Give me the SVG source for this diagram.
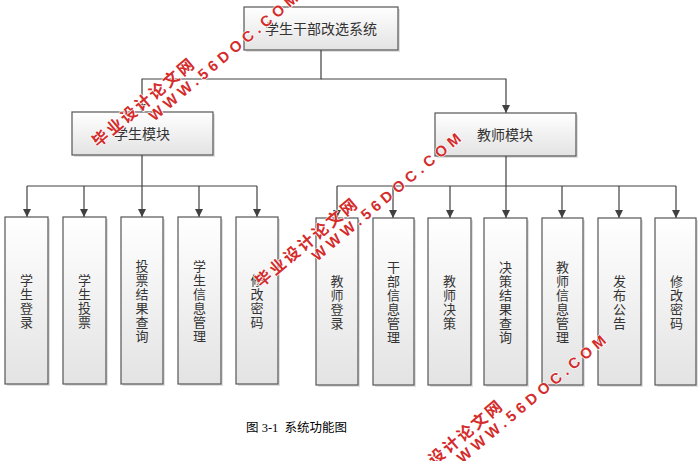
<svg xmlns="http://www.w3.org/2000/svg" width="700" height="461" viewBox="0 0 700 461">
<style>
.box{fill:url(#g);stroke:#555;stroke-width:1.2}
.sh{fill:#000;opacity:0.12}
.t{font-family:"Noto Sans CJK SC","Liberation Sans",sans-serif;font-size:14px;fill:#333;text-anchor:middle}
.v{font-family:"Noto Sans CJK SC","Liberation Sans",sans-serif;font-size:13px;fill:#333;text-anchor:middle}
.c{fill:none;stroke:#404040;stroke-width:1.2}
.wm{font-family:"Liberation Sans","Noto Sans CJK SC",sans-serif;font-weight:bold;fill:#d42b2b;stroke:#fff;stroke-width:1.2;paint-order:stroke}
.zh{font-size:16px;letter-spacing:2.5px}
.en{font-size:15px;letter-spacing:4.5px}
.cap{font-family:"Liberation Serif","Noto Sans CJK SC",serif;font-size:12.5px;fill:#000}
</style>
<defs>
<linearGradient id="g" x1="0" y1="0" x2="0" y2="1">
<stop offset="0" stop-color="#ffffff"/>
<stop offset="1" stop-color="#e3e3e3"/>
</linearGradient>
<marker id="a" markerUnits="userSpaceOnUse" markerWidth="8" markerHeight="8" refX="8" refY="4" orient="auto">
<path d="M0,0 L8,4 L0,8 z" fill="#404040"/>
</marker>
</defs>
<rect width="700" height="461" fill="#fff"/>

<g id="connectors">
<path class="c" d="M321 50 V79 H142 V112" marker-end="url(#a)"/>
<path class="c" d="M321 79 H506 V113" marker-end="url(#a)"/>
<path class="c" d="M142 155 V217" marker-end="url(#a)"/>
<path class="c" d="M27 186 H257"/>
<path class="c" d="M27 186 V217" marker-end="url(#a)"/>
<path class="c" d="M84 186 V217" marker-end="url(#a)"/>
<path class="c" d="M199 186 V217" marker-end="url(#a)"/>
<path class="c" d="M257 186 V217" marker-end="url(#a)"/>
<path class="c" d="M506 156 V218" marker-end="url(#a)"/>
<path class="c" d="M337 186 H676"/>
<path class="c" d="M337 186 V218" marker-end="url(#a)"/>
<path class="c" d="M393 186 V218" marker-end="url(#a)"/>
<path class="c" d="M450 186 V218" marker-end="url(#a)"/>
<path class="c" d="M562 186 V218" marker-end="url(#a)"/>
<path class="c" d="M619 186 V218" marker-end="url(#a)"/>
<path class="c" d="M676 186 V218" marker-end="url(#a)"/>
</g>

<g id="root">
<rect class="sh" x="246" y="9" width="154" height="43"/>
<rect class="box" x="244" y="7" width="154" height="43"/>
<text class="t" x="321" y="34">学生干部改选系统</text>
</g>
<g id="student">
<rect class="sh" x="74" y="114" width="141" height="43"/>
<rect class="box" x="72" y="112" width="141" height="43"/>
<text class="t" x="142" y="139">学生模块</text>
</g>
<g id="teacher">
<rect class="sh" x="437" y="115" width="141" height="43"/>
<rect class="box" x="435" y="113" width="141" height="43"/>
<text class="t" x="505" y="140">教师模块</text>
</g>

<g id="s1">
<rect class="sh" x="7" y="219" width="43" height="167"/>
<rect class="box" x="5" y="217" width="43" height="167"/>
<text class="v"><tspan x="26.5" y="285">学</tspan><tspan x="26.5" y="299">生</tspan><tspan x="26.5" y="313">登</tspan><tspan x="26.5" y="327">录</tspan></text>
</g>
<g id="s2">
<rect class="sh" x="65" y="219" width="43" height="167"/>
<rect class="box" x="63" y="217" width="43" height="167"/>
<text class="v"><tspan x="84.5" y="285">学</tspan><tspan x="84.5" y="299">生</tspan><tspan x="84.5" y="313">投</tspan><tspan x="84.5" y="327">票</tspan></text>
</g>
<g id="s3">
<rect class="sh" x="123" y="219" width="42" height="167"/>
<rect class="box" x="121" y="217" width="42" height="167"/>
<text class="v"><tspan x="142" y="271">投</tspan><tspan x="142" y="285">票</tspan><tspan x="142" y="299">结</tspan><tspan x="142" y="313">果</tspan><tspan x="142" y="327">查</tspan><tspan x="142" y="341">询</tspan></text>
</g>
<g id="s4">
<rect class="sh" x="180" y="219" width="43" height="167"/>
<rect class="box" x="178" y="217" width="43" height="167"/>
<text class="v"><tspan x="199.5" y="271">学</tspan><tspan x="199.5" y="285">生</tspan><tspan x="199.5" y="299">信</tspan><tspan x="199.5" y="313">息</tspan><tspan x="199.5" y="327">管</tspan><tspan x="199.5" y="341">理</tspan></text>
</g>
<g id="s5">
<rect class="sh" x="238" y="219" width="42" height="167"/>
<rect class="box" x="236" y="217" width="42" height="167"/>
<text class="v"><tspan x="257" y="285">修</tspan><tspan x="257" y="299">改</tspan><tspan x="257" y="313">密</tspan><tspan x="257" y="327">码</tspan></text>
</g>

<g id="t1">
<rect class="sh" x="318" y="220" width="42" height="167"/>
<rect class="box" x="316" y="218" width="42" height="167"/>
<text class="v"><tspan x="337" y="286">教</tspan><tspan x="337" y="300">师</tspan><tspan x="337" y="314">登</tspan><tspan x="337" y="328">录</tspan></text>
</g>
<g id="t2">
<rect class="sh" x="375" y="220" width="41" height="167"/>
<rect class="box" x="373" y="218" width="41" height="167"/>
<text class="v"><tspan x="393.5" y="272">干</tspan><tspan x="393.5" y="286">部</tspan><tspan x="393.5" y="300">信</tspan><tspan x="393.5" y="314">息</tspan><tspan x="393.5" y="328">管</tspan><tspan x="393.5" y="342">理</tspan></text>
</g>
<g id="t3">
<rect class="sh" x="430" y="220" width="43" height="167"/>
<rect class="box" x="428" y="218" width="43" height="167"/>
<text class="v"><tspan x="449.5" y="286">教</tspan><tspan x="449.5" y="300">师</tspan><tspan x="449.5" y="314">决</tspan><tspan x="449.5" y="328">策</tspan></text>
</g>
<g id="t4">
<rect class="sh" x="486" y="220" width="43" height="167"/>
<rect class="box" x="484" y="218" width="43" height="167"/>
<text class="v"><tspan x="505.5" y="272">决</tspan><tspan x="505.5" y="286">策</tspan><tspan x="505.5" y="300">结</tspan><tspan x="505.5" y="314">果</tspan><tspan x="505.5" y="328">查</tspan><tspan x="505.5" y="342">询</tspan></text>
</g>
<g id="t5">
<rect class="sh" x="544" y="220" width="41" height="167"/>
<rect class="box" x="542" y="218" width="41" height="167"/>
<text class="v"><tspan x="562.5" y="272">教</tspan><tspan x="562.5" y="286">师</tspan><tspan x="562.5" y="300">信</tspan><tspan x="562.5" y="314">息</tspan><tspan x="562.5" y="328">管</tspan><tspan x="562.5" y="342">理</tspan></text>
</g>
<g id="t6">
<rect class="sh" x="600" y="220" width="43" height="167"/>
<rect class="box" x="598" y="218" width="43" height="167"/>
<text class="v"><tspan x="619.5" y="286">发</tspan><tspan x="619.5" y="300">布</tspan><tspan x="619.5" y="314">公</tspan><tspan x="619.5" y="328">告</tspan></text>
</g>
<g id="t7">
<rect class="sh" x="657" y="220" width="41" height="167"/>
<rect class="box" x="655" y="218" width="41" height="167"/>
<text class="v"><tspan x="676.5" y="286">修</tspan><tspan x="676.5" y="300">改</tspan><tspan x="676.5" y="314">密</tspan><tspan x="676.5" y="328">码</tspan></text>
</g>

<text class="cap" x="246" y="432" xml:space="preserve">图 3-1  系统功能图</text>

<g id="watermarks">
<g transform="translate(98,148) rotate(-40)">
<text class="wm zh" x="0" y="0">毕业设计论文网</text>
<text class="wm en" x="60" y="16">WWW.56DOC.COM</text>
</g>
<g transform="translate(261,288) rotate(-40)">
<text class="wm zh" x="0" y="0">毕业设计论文网</text>
<text class="wm en" x="60" y="16">WWW.56DOC.COM</text>
</g>
<g transform="translate(406,490) rotate(-40)">
<text class="wm zh" x="0" y="0">毕业设计论文网</text>
<text class="wm en" x="60" y="16">WWW.56DOC.COM</text>
</g>
</g>
</svg>
